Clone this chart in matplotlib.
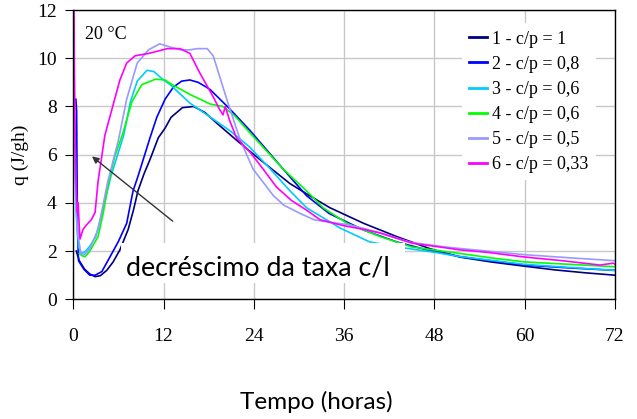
import matplotlib
matplotlib.use("Agg")
import matplotlib.pyplot as plt
from matplotlib.patches import Rectangle

# --- dados (tempo em horas, q em J/gh) ---
labels = ["1 - c/p = 1", "2 - c/p = 0,8", "3 - c/p = 0,6",
          "4 - c/p = 0,6", "5 - c/p = 0,5", "6 - c/p = 0,33"]
colors = ["#000080", "#0000ff", "#00ccff", "#00ff00", "#9999ff", "#ff00ff"]

t1 = [0.4, 0.8, 1.5, 2.2, 2.9, 3.6, 4.45, 5.3, 6.2, 7.3, 8.0, 8.6, 9.4, 10.2, 11.3, 12.2,
      13.0, 14.5, 16.0, 17.5, 19.1, 21.7, 24.8, 28.8, 31.4, 34.1, 38.6, 43, 47.4, 51.4,
      55.5, 59.8, 64, 68, 72]
q1 = [2.0, 1.6, 1.25, 1.05, 0.94, 0.98, 1.2, 1.55, 2.05, 2.9, 3.7, 4.5, 5.2, 5.8, 6.7, 7.1,
      7.55, 7.95, 8.0, 7.75, 7.3, 6.6, 5.8, 4.8, 4.3, 3.8, 3.15, 2.6, 2.1, 1.75,
      1.55, 1.38, 1.22, 1.1, 1.0]

t2 = [0.35, 0.45, 0.55, 0.7, 0.9, 1.4, 2.2, 2.9, 3.8, 4.9, 6.0, 7.1, 7.95, 8.6, 9.3, 10.2,
      11.1, 12.2, 13.3, 14.4, 15.5, 16.6, 17.7, 18.2, 20.8, 23.5, 27.9, 31, 34, 38.6,
      43, 47, 51.4, 56, 60, 66, 72]
q2 = [8.3, 7.8, 3.0, 1.6, 1.5, 1.25, 1.0, 1.0, 1.15, 1.77, 2.4, 3.15, 4.5, 5.1, 5.8, 6.7,
      7.55, 8.3, 8.8, 9.05, 9.1, 9.0, 8.8, 8.7, 7.9, 7.0, 5.4, 4.3, 3.56, 2.87,
      2.38, 2.05, 1.77, 1.58, 1.42, 1.3, 1.2]

t3 = [0.1, 0.2, 0.4, 0.7, 1.0, 1.5, 2.2, 3.0, 4.0, 5.0, 6.0, 6.7, 7.6, 8.5, 9.8, 10.7,
      12.0, 12.9, 15.5, 18.2, 20.8, 23.5, 26.2, 28.8, 31, 35.5, 39.4, 44, 48, 51.4,
      56, 60, 66, 72]
q3 = [6.0, 5.8, 3.5, 2.2, 1.9, 1.95, 2.2, 2.6, 3.8, 5.1, 6.1, 6.8, 8.2, 9.05, 9.5, 9.45,
      9.1, 8.9, 8.14, 7.56, 7.0, 6.3, 5.4, 4.5, 3.8, 2.95, 2.38, 2.13, 1.95, 1.77,
      1.6, 1.45, 1.32, 1.2]

t4 = [0.8, 1.2, 1.6, 2.2, 3.3, 4.0, 4.6, 5.5, 6.6, 7.8, 9.1, 10.9, 12.2, 12.9, 15.5,
      18.2, 19.9, 21.5, 23.5, 27.9, 31, 33.2, 36.4, 40.8, 45, 51.4, 56, 60, 66, 72]
q4 = [1.9, 1.8, 1.77, 2.0, 2.6, 3.6, 4.7, 5.9, 6.9, 8.2, 8.9, 9.13, 9.1, 8.95, 8.5,
      8.1, 8.0, 7.6, 6.9, 5.4, 4.5, 3.8, 3.15, 2.6, 2.17, 1.9, 1.7, 1.55, 1.45, 1.35]

t5 = [0.1, 0.2, 0.5, 1.0, 1.5, 2.2, 3.3, 4.6, 6.0, 7.1, 8.5, 10.0, 11.5, 12.5, 14.2,
      15.5, 16.5, 17.8, 18.6, 20.4, 22.2, 23.9, 26.6, 28.0, 30.1, 32, 34, 36.4, 38.5,
      40.8, 45, 50, 55, 60, 66, 72]
q5 = [8.0, 6.0, 3.0, 1.9, 1.85, 2.1, 2.9, 4.9, 6.6, 8.3, 9.8, 10.35, 10.6, 10.5, 10.35,
      10.35, 10.4, 10.4, 10.1, 8.3, 6.6, 5.4, 4.3, 3.9, 3.57, 3.3, 3.2, 3.1, 2.95,
      2.75, 2.35, 2.15, 2.0, 1.85, 1.72, 1.6]

t6 = [0.1, 0.15, 0.25, 0.35, 0.45, 0.55, 0.65, 0.8, 0.9, 1.1, 1.3, 1.8, 2.4, 2.9, 3.3,
      4.2, 5.5, 6.2, 7.1, 8.2, 10, 11.3, 12.5, 14.2, 15.5, 16.8, 18.6, 19.4, 19.9, 20.2,
      20.8, 21.7, 23.5, 25, 27, 29, 31, 32.8, 36, 38.6, 40.8, 45, 48, 51.4, 55, 59.8,
      65, 70, 71.8, 72]
q6 = [12.5, 9.5, 7.0, 5.0, 4.2, 3.6, 4.0, 3.0, 2.5, 2.7, 2.9, 3.1, 3.3, 3.6, 4.9,
      6.8, 8.3, 9.1, 9.8, 10.1, 10.2, 10.3, 10.4, 10.4, 10.2, 9.4, 8.4, 7.9, 7.65, 8.0,
      7.4, 6.7, 6.1, 5.5, 4.66, 4.1, 3.7, 3.3, 3.05, 2.9, 2.75, 2.33, 2.2, 2.05, 1.95,
      1.76, 1.6, 1.42, 1.5, 1.45]

series_t = [t1, t2, t3, t4, t5, t6]
series_q = [q1, q2, q3, q4, q5, q6]

xticks = [0, 12, 24, 36, 48, 60, 72]
yticks = [0, 2, 4, 6, 8, 10, 12]

serif = "Liberation Serif"
sans = "Lato"

fig = plt.figure(figsize=(6.37, 4.19), dpi=100)
ax = fig.add_axes([0.115, 0.2857, 0.8505, 0.6903])

for t, q, c, lab in zip(series_t, series_q, colors, labels):
    ax.plot(t, q, color=c, lw=1.2, label=lab)

ax.set_xlim(0, 72)
ax.set_ylim(0, 12)
ax.set_xticks(xticks)
ax.set_yticks(yticks)
ax.grid(True, color="#c8c8c8", lw=1.0)
ax.set_axisbelow(True)
ax.tick_params(axis="x", direction="out", length=7, pad=14, labelsize=14)
ax.tick_params(axis="y", direction="out", length=6, pad=6, labelsize=14)
for lbl in ax.get_xticklabels() + ax.get_yticklabels():
    lbl.set_fontfamily(serif)
for s in ax.spines.values():
    s.set_color("black")
    s.set_linewidth(1.0)

ax.set_ylabel("q (J/gh)", fontfamily=serif, fontsize=14, labelpad=6)
fig.text(0.497, 0.04, "Tempo (horas)", fontfamily=sans, fontsize=17.5,
         ha="center", va="center")

# caixa branca por trás da anotação
ax.add_patch(Rectangle((6.3, 0.68), 37.8, 1.66, facecolor="white",
                       edgecolor="none", zorder=3))
ax.text(7.0, 1.0, "decréscimo da taxa c/l", fontfamily=sans, fontsize=19.3,
        ha="left", va="baseline", zorder=4)
ax.annotate("", xy=(2.2, 6.0), xytext=(13.5, 3.17),
            arrowprops=dict(arrowstyle="-|>", color="#333333", lw=1.0,
                            mutation_scale=10), zorder=4)

ax.text(1.6, 11.0, "20 °C", fontfamily=serif, fontsize=13, ha="left", va="center")

leg = ax.legend(loc="upper left", bbox_to_anchor=(0.70, 0.985), frameon=True,
                prop={"family": serif, "size": 13}, handlelength=1.0,
                handletextpad=0.3, labelspacing=0.45, borderpad=0.4)
leg.get_frame().set_facecolor("white")
leg.get_frame().set_edgecolor("none")
leg.get_frame().set_alpha(1.0)
for line in leg.get_lines():
    line.set_linewidth(2.0)

fig.savefig("out.png", dpi=100)
